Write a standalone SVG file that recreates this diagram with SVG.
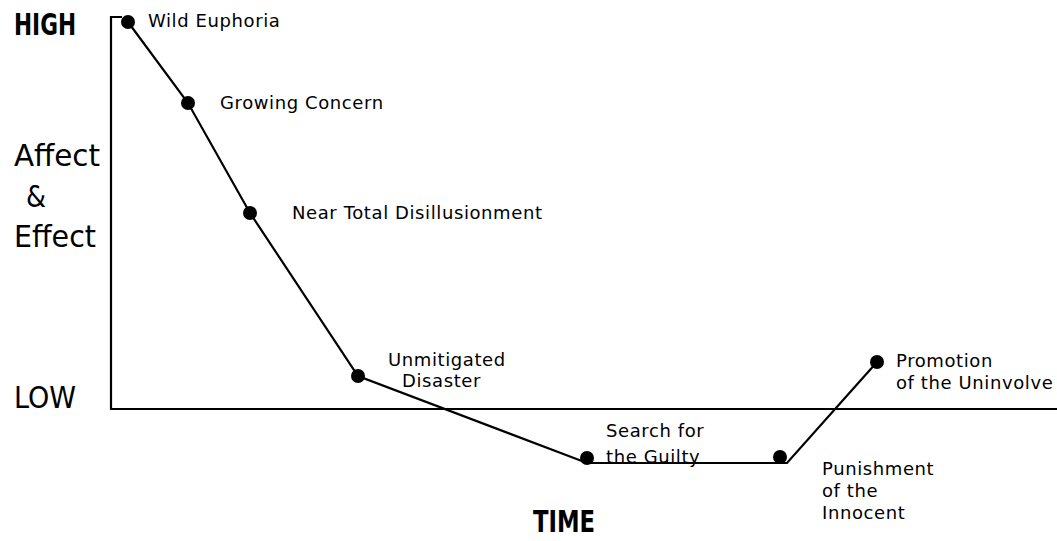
<svg xmlns="http://www.w3.org/2000/svg" width="1057" height="541" viewBox="0 0 1057 541">
<style>
.lbl{font-family:"DejaVu Sans","Liberation Sans",sans-serif;font-size:18px;letter-spacing:0.6px;fill:#000}
.ax{font-family:"DejaVu Sans Condensed","DejaVu Sans",sans-serif;font-size:31px;fill:#000}
.line{stroke:#000;stroke-width:2.2;fill:none}
.dot{fill:#000}
</style>
<rect width="1057" height="541" fill="#fff"/>
<g id="axes">
<polyline class="line" points="122,17 111,17 111,409 1057,409"/>
<text class="ax" x="14" y="35" font-weight="bold" textLength="62" lengthAdjust="spacingAndGlyphs">HIGH</text>
<text class="ax" x="14" y="166" textLength="86" lengthAdjust="spacingAndGlyphs">Affect</text>
<text class="ax" x="26" y="207" textLength="20" lengthAdjust="spacingAndGlyphs">&amp;</text>
<text class="ax" x="14" y="247" textLength="82" lengthAdjust="spacingAndGlyphs">Effect</text>
<text class="ax" x="14" y="408" textLength="62" lengthAdjust="spacingAndGlyphs">LOW</text>
<text class="ax" x="533" y="532" font-weight="bold" textLength="62" lengthAdjust="spacingAndGlyphs">TIME</text>
</g>
<g id="connectors">
<polyline class="line" points="128,22 188,103 250,213 358,376 587,463 787,463 877,362"/>
</g>
<g id="n1"><circle class="dot" cx="128" cy="22" r="7"/><text class="lbl" x="148" y="27">Wild Euphoria</text></g>
<g id="n2"><circle class="dot" cx="188" cy="103" r="7"/><text class="lbl" x="220" y="109">Growing Concern</text></g>
<g id="n3"><circle class="dot" cx="250" cy="213" r="7"/><text class="lbl" x="292" y="219">Near Total Disillusionment</text></g>
<g id="n4"><circle class="dot" cx="358" cy="376" r="7"/><text class="lbl" x="388" y="366">Unmitigated</text><text class="lbl" x="402" y="387">Disaster</text></g>
<g id="n5"><circle class="dot" cx="587" cy="458" r="7"/><text class="lbl" x="606" y="437">Search for</text><text class="lbl" x="606" y="463">the Guilty</text></g>
<g id="n6"><circle class="dot" cx="780" cy="457" r="7"/><text class="lbl" x="822" y="475">Punishment</text><text class="lbl" x="822" y="497">of the</text><text class="lbl" x="822" y="519">Innocent</text></g>
<g id="n7"><circle class="dot" cx="877" cy="362" r="7"/><text class="lbl" x="896" y="367">Promotion</text><text class="lbl" x="896" y="389">of the Uninvolve</text></g>
</svg>
